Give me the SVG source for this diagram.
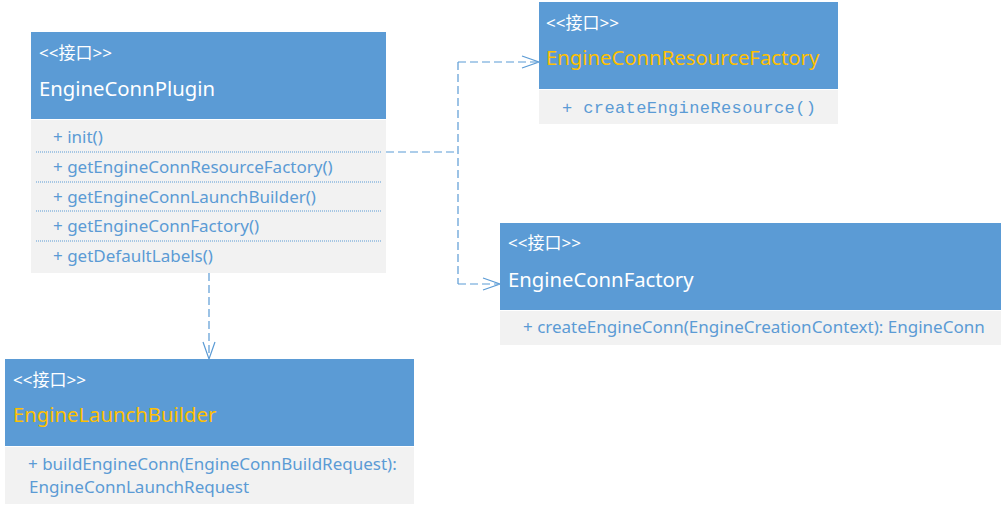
<svg xmlns="http://www.w3.org/2000/svg" width="1003" height="510" viewBox="0 0 1003 510">
<defs>
<style>
.hdr{fill:#5B9BD5}
.body{fill:#F2F2F2}
.st{font-family:"Noto Sans","Noto Sans CJK SC",sans-serif;font-size:17px;fill:#FFFFFF}
.tw{font-family:"Noto Sans","Liberation Sans",sans-serif;font-size:20.3px;fill:#FFFFFF}
.ty{font-family:"Noto Sans","Liberation Sans",sans-serif;font-size:20.3px;fill:#FFC000}
.m{font-family:"Noto Sans","Liberation Sans",sans-serif;font-size:17px;fill:#5B9BD5}
.mono{font-family:"Liberation Mono",monospace;font-size:17px;fill:#5B9BD5}
.sep{stroke:#5B9BD5;stroke-width:1;stroke-dasharray:1,1;fill:none}
.con{stroke:#5B9BD5;stroke-width:1.2;stroke-dasharray:8,4;fill:none}
.arr{stroke:#5B9BD5;stroke-width:1.2;fill:none}
</style>
</defs>
<rect width="1003" height="510" fill="#FFFFFF"/>
<g id="connectors">
<path class="con" d="M386,152 H458"/>
<path class="con" d="M458,62 V284"/>
<path class="con" d="M458,62 H537"/>
<path class="con" d="M458,284 H498"/>
<path class="con" d="M209,273 V357"/>
<path class="arr" d="M522,56 L539,62 L522,68"/>
<path class="arr" d="M483,278 L500,284 L483,290"/>
<path class="arr" d="M203,342 L209,359 L215,342"/>
</g>
<g id="EngineConnPlugin">
<rect class="hdr" x="31" y="32" width="355" height="87"/>
<rect class="body" x="31" y="120" width="355" height="153"/>
<text class="st" x="39" y="59">&lt;&lt;接口&gt;&gt;</text>
<text class="tw" x="39" y="96">EngineConnPlugin</text>
<text class="m" x="53" y="143">+ init()</text>
<line class="sep" x1="36" y1="152" x2="381" y2="152"/>
<text class="m" x="53" y="173">+ getEngineConnResourceFactory()</text>
<line class="sep" x1="36" y1="182" x2="381" y2="182"/>
<text class="m" x="53" y="203">+ getEngineConnLaunchBuilder()</text>
<line class="sep" x1="36" y1="211" x2="381" y2="211"/>
<text class="m" x="53" y="232">+ getEngineConnFactory()</text>
<line class="sep" x1="36" y1="241" x2="381" y2="241"/>
<text class="m" x="53" y="262">+ getDefaultLabels()</text>
</g>
<g id="EngineConnResourceFactory">
<rect class="hdr" x="539" y="2" width="299" height="87"/>
<rect class="body" x="539" y="90" width="299" height="34"/>
<text class="st" x="546" y="29">&lt;&lt;接口&gt;&gt;</text>
<text class="ty" x="546" y="65">EngineConnResourceFactory</text>
<text class="mono" x="562" y="113" textLength="254">+ createEngineResource()</text>
</g>
<g id="EngineConnFactory">
<rect class="hdr" x="500" y="223" width="501" height="87"/>
<rect class="body" x="500" y="311" width="501" height="34"/>
<text class="st" x="508" y="249">&lt;&lt;接口&gt;&gt;</text>
<text class="tw" x="508" y="287">EngineConnFactory</text>
<text class="m" x="523" y="333">+ createEngineConn(EngineCreationContext): EngineConn</text>
</g>
<g id="EngineLaunchBuilder">
<rect class="hdr" x="5" y="359" width="409" height="87"/>
<rect class="body" x="5" y="447" width="409" height="57"/>
<text class="st" x="13" y="386">&lt;&lt;接口&gt;&gt;</text>
<text class="ty" x="13" y="422">EngineLaunchBuilder</text>
<text class="m" x="28" y="470">+ buildEngineConn(EngineConnBuildRequest):</text>
<text class="m" x="29" y="493">EngineConnLaunchRequest</text>
</g>
</svg>
